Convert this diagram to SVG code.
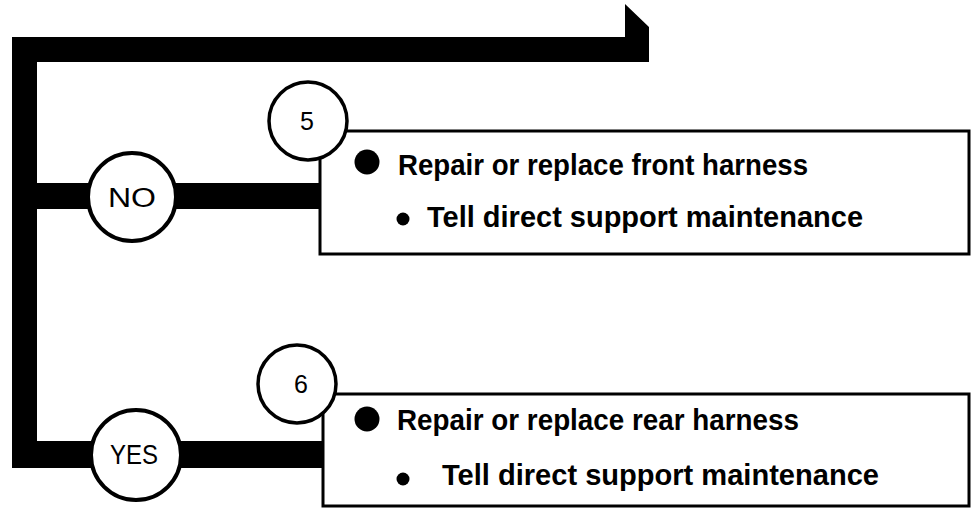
<svg xmlns="http://www.w3.org/2000/svg" width="972" height="510" viewBox="0 0 972 510">
<style>
.ring{fill:#fff;stroke:#000;stroke-width:4}
.num{fill:#fff;stroke:#000;stroke-width:3.5}
.box{fill:#fff;stroke:#000;stroke-width:3}
.lbl{font-family:"Liberation Sans",Arial,sans-serif;font-size:27px;fill:#000;text-anchor:middle}
.t1{font-family:"Liberation Sans",Arial,sans-serif;font-size:30px;font-weight:bold;fill:#000}
.t2{font-family:"Liberation Sans",Arial,sans-serif;font-size:30px;font-weight:bold;fill:#000}
</style>
<rect width="972" height="510" fill="#fff"/>
<g id="connectors">
<path d="M12,37 H625 V4 L649,27 V62 H37 V441 H323 V468 H12 Z" fill="#000"/>
<rect x="36" y="183" width="286" height="26" fill="#000"/>
</g>
<g id="box5">
<rect x="320" y="131" width="649" height="123" class="box"/>
<circle cx="367" cy="162" r="12.5"/>
<text x="398" y="175" class="t1" textLength="410" lengthAdjust="spacingAndGlyphs">Repair or replace front harness</text>
<circle cx="403" cy="219" r="6.5"/>
<text x="427" y="227" class="t2" textLength="436" lengthAdjust="spacingAndGlyphs">Tell direct support maintenance</text>
</g>
<g id="box6">
<rect x="323" y="394" width="646" height="112" class="box"/>
<circle cx="367" cy="419" r="12.5"/>
<text x="397" y="430" class="t1" textLength="402" lengthAdjust="spacingAndGlyphs">Repair or replace rear harness</text>
<circle cx="403" cy="479" r="6.5"/>
<text x="442" y="485" class="t2" textLength="437" lengthAdjust="spacingAndGlyphs">Tell direct support maintenance</text>
</g>
<g id="step5">
<circle cx="308" cy="121" r="39" class="num"/>
<text x="307" y="130" class="lbl" style="font-size:25px">5</text>
</g>
<g id="step6">
<circle cx="297" cy="384" r="39" class="num"/>
<text x="301" y="393" class="lbl" style="font-size:25px">6</text>
</g>
<g id="no">
<circle cx="132" cy="197" r="44" class="ring"/>
<text x="132" y="207" class="lbl" textLength="48" lengthAdjust="spacingAndGlyphs">NO</text>
</g>
<g id="yes">
<circle cx="136" cy="455" r="45" class="ring"/>
<text x="134" y="464" class="lbl" textLength="48" lengthAdjust="spacingAndGlyphs">YES</text>
</g>
</svg>
